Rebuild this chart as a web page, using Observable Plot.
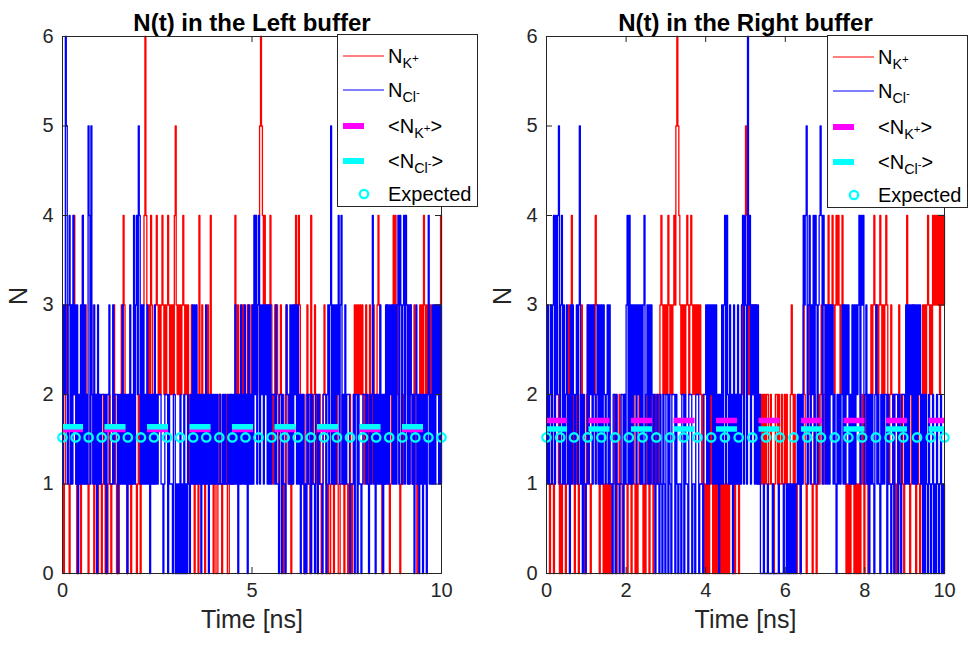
<!DOCTYPE html>
<html>
<head>
<meta charset="utf-8">
<script src="https://cdn.jsdelivr.net/npm/d3@7"></script>
<script src="https://cdn.jsdelivr.net/npm/@observablehq/plot@0.6"></script>
<style>
  html, body { margin: 0; padding: 0; background: #fff; }
  #wrap { position: relative; width: 968px; height: 646px; overflow: hidden; font-family: "Liberation Sans", Arial, sans-serif; }
  .panel { position: absolute; top: 0; }
  .legend { position: absolute; background: #fff; border: 1px solid #262626; box-sizing: border-box; width: 141px; height: 173px; font-size: 20px; color: #000; }
  .legend .row { position: absolute; left: 0; height: 30px; width: 140px; }
  .legend svg { position: absolute; left: 0; top: 0; }
  .legend .lab { position: absolute; left: 50px; top: 3px; line-height: 24px; white-space: nowrap; }
  .legend sub { font-size: 0.72em; vertical-align: -0.38em; line-height: 0; }
  .legend sup { font-size: 0.8em; vertical-align: 0.55em; line-height: 0; }
</style>
</head>
<body>
<div id="wrap"></div>
<script>
const leftK = [
  1,0,1,2,3,2,1,0,1,2,3,2,4,2,1,0,1,2,1,0,
  1,4,2,1,3,2,1,0,1,2,3,2,1,0,1,2,1,0,1,2,
  1,0,1,2,1,0,1,0,1,2,1,0,1,2,3,2,1,0,1,0,
  1,2,3,2,4,3,2,1,0,1,2,1,0,1,2,3,2,1,0,1,
  2,1,0,1,2,3,4,6,4,3,2,3,2,4,3,2,1,2,3,4,
  3,2,3,2,3,4,3,2,3,2,3,4,3,2,3,2,3,2,4,5,
  3,2,3,2,3,2,3,4,3,2,3,2,3,2,1,2,3,2,1,0,
  1,2,1,0,4,2,1,3,2,1,0,1,2,3,2,1,4,2,1,0,
  1,1,0,0,1,2,2,1,0,1,1,1,2,1,0,0,1,2,1,1,
  1,2,4,3,2,3,2,1,2,3,2,3,2,1,2,3,2,3,1,2,
  3,2,3,4,3,2,3,4,5,6,5,4,3,4,3,2,3,2,3,4,
  3,2,1,2,3,2,3,2,1,2,3,2,1,0,1,2,3,2,1,2,
  1,0,1,2,3,2,4,3,2,4,3,2,1,2,1,0,1,2,3,2,
  1,0,4,2,1,2,3,2,1,0,1,2,1,0,1,2,3,2,1,0,
  1,0,0,1,2,1,0,1,1,2,1,0,0,1,1,2,1,0,1,1,
  1,0,1,2,1,0,1,2,3,2,3,2,3,2,3,2,3,2,1,2,
  3,2,1,2,3,2,1,2,3,2,1,2,3,4,3,2,1,0,1,2,
  1,2,3,2,1,0,1,2,3,4,3,4,2,3,2,1,0,1,2,1,
  2,3,4,3,2,1,2,3,2,1,2,3,2,1,0,1,2,3,2,3,
  2,4,3,2,3,2,3,2,3,2,1,2,3,2,3,2,3,2,3,4,
  3
];
const leftCl = [
  1,3,2,6,5,1,3,4,1,3,1,4,2,3,1,3,0,2,1,3,
  1,4,1,3,1,2,1,5,4,1,5,2,1,3,1,2,0,3,1,2,
  1,2,2,2,1,2,0,2,2,3,1,1,1,3,1,2,2,2,0,2,
  1,2,1,3,1,2,1,2,0,2,1,3,1,2,1,4,1,3,4,2,
  5,4,1,3,1,3,1,2,1,3,1,2,0,2,1,2,1,3,1,2,
  1,2,2,2,1,1,0,1,2,2,2,0,2,1,1,1,0,2,2,0,
  1,0,1,0,2,0,1,0,2,0,1,0,2,1,0,2,1,3,1,3,
  1,3,1,2,1,2,0,2,1,2,1,3,1,2,0,2,1,2,1,2,
  1,2,1,2,1,1,2,1,1,2,1,2,1,1,2,1,2,1,2,1,
  2,1,3,1,2,0,2,1,3,1,2,1,3,1,2,0,3,1,2,1,
  3,1,4,2,4,1,3,4,1,3,2,3,1,3,2,3,1,3,1,3,
  1,2,2,2,1,3,1,1,0,2,2,0,2,1,1,0,3,2,2,1,
  3,1,3,1,3,2,3,1,3,1,2,0,2,1,2,0,1,0,2,1,
  2,2,0,2,1,1,0,2,2,0,2,1,1,1,0,2,2,2,0,2,
  3,1,3,5,1,3,1,3,1,3,2,4,1,3,4,1,2,1,3,1,
  2,2,2,0,1,1,1,2,0,2,2,0,2,1,1,0,1,2,2,2,
  1,2,1,0,2,1,2,4,1,2,0,2,1,2,1,3,1,2,0,2,
  1,3,1,3,1,3,2,3,1,3,1,3,1,3,4,1,4,3,1,3,
  4,1,4,3,1,3,1,3,2,1,2,0,2,3,1,2,0,2,1,2,
  0,2,1,2,0,2,4,1,2,1,3,1,3,1,3,2,3,1,3,1,
  3
];
const rightK = [
  3,2,1,0,1,2,1,0,1,2,3,2,1,0,1,0,1,2,1,0,
  1,2,3,2,1,4,2,1,0,1,2,1,0,1,2,3,2,1,0,1,
  2,3,2,1,0,1,2,3,2,4,3,2,1,0,1,2,1,0,1,0,
  1,0,1,0,1,0,1,1,2,1,0,1,1,2,1,1,0,1,2,1,
  1,0,1,2,1,0,1,2,1,0,1,0,1,2,1,2,1,0,1,0,
  1,2,1,0,1,2,1,0,1,2,1,2,1,2,3,4,3,2,3,2,
  3,2,4,3,2,3,2,3,4,3,5,6,5,4,3,2,3,2,3,2,
  3,4,3,2,3,4,3,2,3,2,3,2,3,2,3,2,1,2,1,0,
  1,0,1,0,1,2,1,0,1,0,1,0,1,2,1,0,1,0,1,0,
  1,0,1,0,1,2,1,0,1,0,1,2,1,0,1,2,3,2,4,3,
  5,4,3,2,3,2,3,2,3,2,3,2,1,2,1,2,1,2,1,2,
  1,2,2,1,1,2,1,1,0,1,2,2,1,2,1,1,2,1,1,2,
  1,2,1,0,1,2,3,2,1,2,1,0,1,2,1,0,1,2,3,2,
  1,0,1,2,3,2,1,0,1,2,1,0,1,2,1,2,3,2,1,2,
  3,2,3,4,3,2,3,4,3,2,3,4,3,4,3,2,3,4,3,2,
  1,0,1,0,1,0,1,2,1,0,1,0,1,0,1,0,1,2,1,0,
  1,2,1,0,1,2,3,2,3,4,3,2,3,2,3,4,3,2,3,2,
  3,4,3,2,1,2,3,2,1,2,1,0,1,2,3,2,1,2,1,0,
  1,2,4,2,1,0,1,2,3,2,1,0,1,2,1,0,1,2,3,2,
  3,2,3,4,3,2,3,2,4,3,4,3,4,3,4,2,4,3,4,3,
  4
];
const rightCl = [
  1,3,1,2,3,1,3,4,1,4,2,4,5,1,3,4,1,3,1,2,
  3,1,2,0,3,1,3,2,1,2,3,1,3,5,1,2,0,2,1,0,
  1,3,1,3,2,3,1,3,2,1,2,3,1,3,1,3,1,3,2,1,
  2,3,1,3,1,1,0,2,2,0,2,1,1,0,1,2,2,0,2,1,
  3,4,1,4,1,3,1,3,2,3,1,3,2,3,1,3,1,3,4,1,
  2,3,1,3,1,3,2,1,2,0,1,2,1,0,2,1,0,2,1,0,
  2,2,0,2,1,0,2,2,2,0,2,1,0,1,1,0,2,2,0,2,
  1,1,0,2,2,2,0,1,1,0,2,2,2,0,1,1,1,0,2,2,
  3,1,3,1,3,2,3,1,3,1,3,1,2,0,2,1,3,1,3,4,
  1,4,2,1,3,1,2,0,3,1,2,1,3,1,2,1,3,4,1,4,
  3,1,6,3,4,1,3,2,3,1,3,1,3,1,2,0,0,0,1,0,
  0,0,1,0,0,0,0,1,0,0,0,0,0,1,0,0,0,0,1,0,
  0,1,0,1,0,1,0,1,0,1,0,1,2,1,2,0,2,1,4,3,
  4,5,1,3,4,1,3,2,4,1,4,3,1,3,4,5,4,1,4,3,
  1,3,1,3,1,3,2,3,1,2,1,0,2,1,2,1,2,3,1,3,
  1,3,2,3,1,2,1,3,1,3,1,3,2,3,4,1,4,3,4,1,
  2,3,1,2,0,2,1,2,1,0,2,3,1,2,1,0,2,1,2,1,
  2,2,0,2,1,1,0,1,2,0,2,2,2,0,2,1,0,2,2,2,
  1,3,1,3,1,3,2,3,1,3,1,3,1,3,2,3,1,2,0,2,
  0,2,1,0,2,1,0,1,2,0,1,0,2,1,0,1,2,0,1,0,
  1
];
const meansLeft = {k: 1.61, cl: 1.64};
const meansRight = {k: 1.71, cl: 1.615};
const expectedValue = 1.52;
const expectedTimes = [0,0.345,0.690,1.034,1.379,1.724,2.069,2.414,2.759,3.103,3.448,3.793,4.138,4.483,4.828,5.172,5.517,5.862,6.207,6.552,6.897,7.241,7.586,7.931,8.276,8.621,8.966,9.310,9.655,10];
const yTicks = [0,1,2,3,4,5,6];
const xTicksLeft = [0,5,10];
const xTicksRight = [0,2,4,6,8,10];
const titles = ["N(t) in the Left buffer", "N(t) in the Right buffer"];
const tEnd = 10;

const INK = "#262626";
const W = 484, H = 646, MT = 36, MB = 73, ML = 62;

function series(values) {
  const step = tEnd / (values.length - 1);
  return values.map((v, i) => ({t: i * step, v}));
}

function panel({title, k, cl, means, xTicks, marginRight}) {
  const fw = W - ML - marginRight, fh = H - MT - MB;
  return Plot.plot({
    width: W, height: H,
    marginLeft: ML, marginRight, marginTop: MT, marginBottom: MB,
    x: {domain: [0, 10], axis: null},
    y: {domain: [0, 6], axis: null},
    style: {fontFamily: '"Liberation Sans", Arial, sans-serif', background: "transparent", color: INK, overflow: "visible"},
    marks: [
      Plot.line(series(k), {x: "t", y: "v", curve: "step-after", stroke: "#ff0000", strokeWidth: 1.3}),
      Plot.line(series(cl), {x: "t", y: "v", curve: "step-after", stroke: "#0000ff", strokeWidth: 1.3}),
      Plot.ruleY([means.k], {y: d => d, stroke: "#ff00ff", strokeWidth: 5.5, strokeDasharray: "21,21.5"}),
      Plot.ruleY([means.cl], {y: d => d, stroke: "#00ffff", strokeWidth: 5.5, strokeDasharray: "21,21.5"}),
      Plot.dot(expectedTimes, {x: d => d, y: () => expectedValue, r: 4.2, stroke: "#00ffff", strokeWidth: 2.3, fill: "none"}),
      Plot.frame({stroke: INK}),
      Plot.tickX(xTicks, {x: d => d, insetTop: fh - 6, stroke: INK}),
      Plot.tickX(xTicks, {x: d => d, insetBottom: fh - 6, stroke: INK}),
      Plot.tickY(yTicks, {y: d => d, insetRight: fw - 6, stroke: INK}),
      Plot.tickY(yTicks, {y: d => d, insetLeft: fw - 6, stroke: INK}),
      Plot.axisX(xTicks, {tickSize: 0, tickPadding: 9, fontSize: 20, label: null, tickFormat: d => String(d)}),
      Plot.axisY(yTicks, {tickSize: 0, tickPadding: 9, fontSize: 20, label: null, tickFormat: d => String(d)}),
      Plot.text([title], {text: d => d, frameAnchor: "top", dy: -23, fontSize: 24, fontWeight: "bold", fill: "#000"}),
      Plot.text(["Time [ns]"], {text: d => d, frameAnchor: "bottom", dy: 54, fontSize: 25}),
      Plot.text(["N"], {text: d => d, frameAnchor: "left", dx: -44, rotate: -90, fontSize: 25})
    ]
  });
}

function legend(left, top) {
  const rows = [
    {y: 21, icon: `<line x1="5" x2="46" y1="15" y2="15" stroke="#ff0000" stroke-width="1"/>`, html: `N<sub>K<sup>+</sup></sub>`},
    {y: 55, icon: `<line x1="5" x2="46" y1="15" y2="15" stroke="#0000ff" stroke-width="1"/>`, html: `N<sub>Cl<sup>-</sup></sub>`},
    {y: 91, icon: `<line x1="5" x2="26" y1="15" y2="15" stroke="#ff00ff" stroke-width="6"/>`, html: `&lt;N<sub>K<sup>+</sup></sub>&gt;`},
    {y: 126, icon: `<line x1="5" x2="26" y1="15" y2="15" stroke="#00ffff" stroke-width="6"/>`, html: `&lt;N<sub>Cl<sup>-</sup></sub>&gt;`},
    {y: 159, icon: `<circle cx="26" cy="15" r="4.2" fill="none" stroke="#00ffff" stroke-width="2.3"/>`, html: `Expected`}
  ];
  const div = document.createElement("div");
  div.className = "legend";
  div.style.left = left + "px";
  div.style.top = top + "px";
  div.innerHTML = rows.map(r =>
    `<div class="row" style="top:${r.y - 15}px"><svg width="50" height="30">${r.icon}</svg><span class="lab">${r.html}</span></div>`
  ).join("");
  return div;
}

const wrap = document.getElementById("wrap");
const p1 = document.createElement("div"); p1.className = "panel"; p1.style.left = "0px";
p1.appendChild(panel({title: titles[0], k: leftK, cl: leftCl, means: meansLeft, xTicks: xTicksLeft, marginRight: W - 441}));
const p2 = document.createElement("div"); p2.className = "panel"; p2.style.left = W + "px";
p2.appendChild(panel({title: titles[1], k: rightK, cl: rightCl, means: meansRight, xTicks: xTicksRight, marginRight: W - (944 - W)}));
wrap.appendChild(p1);
wrap.appendChild(p2);
wrap.appendChild(legend(337, 34));
wrap.appendChild(legend(827, 35));
</script>
</body>
</html>
